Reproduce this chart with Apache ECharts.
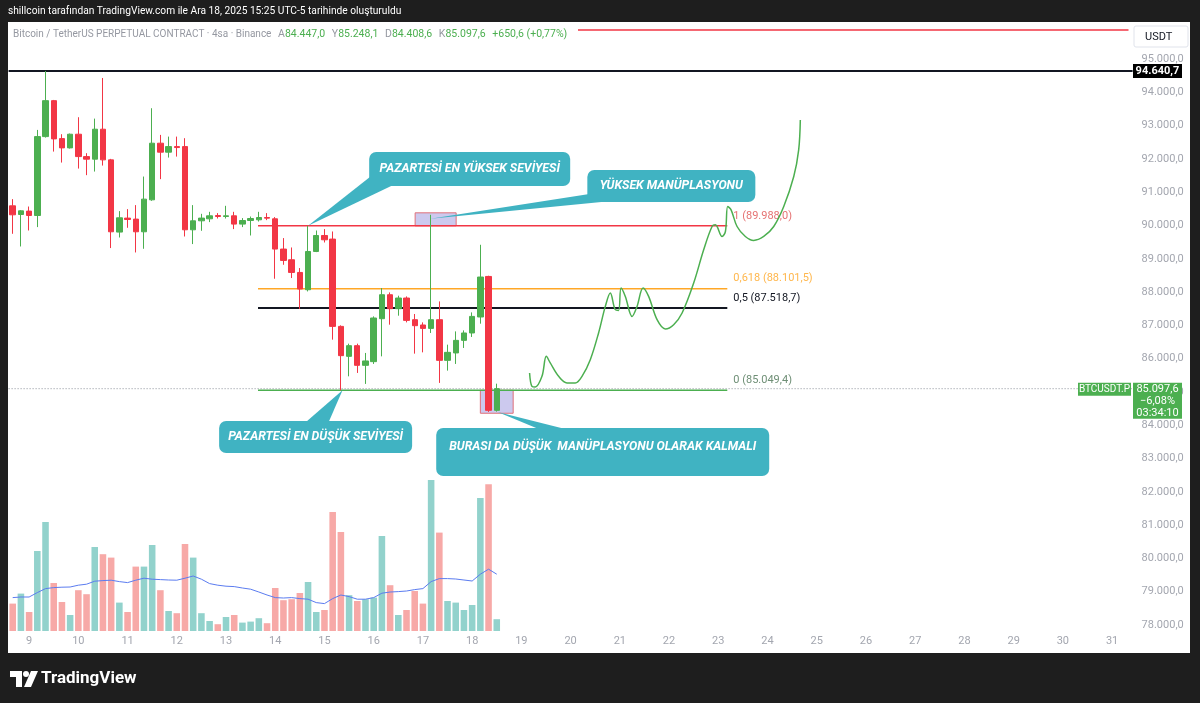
<!DOCTYPE html>
<html><head><meta charset="utf-8">
<script src="https://cdn.jsdelivr.net/npm/echarts@6/dist/echarts.min.js"></script>
<style>html,body{margin:0;padding:0;background:#1e1e1e;}#c{width:1200px;height:703px;}</style>
</head><body><div id="c"></div>
<script>
// ---------------- DATA ----------------
const opens  =[90590,90329,90431,90299,92669,93749,92609,92330,92741,92069,91991,92891,91970,89801,90221,90191,89810,90770,92471,92201,92369,92369,89870,90140,90200,90299,90269,90290,90041,90149,90170,90239,90200,89291,88970,88589,88070,89219,89699,89591,86969,86069,86390,85799,85910,87200,87920,87500,87821,87170,87011,86909,87170,85949,86171,86549,86771,87251,88469,84447.0];
const highs  =[90791,90460,90569,92870,94640.7,93770,92741,92760,93251,92171,93209,94430,92000,90431,90491,90611,91469,93521,92720,92669,92669,92621,90611,90350,90410,90371,90590,90410,90221,90269,90410,90371,90251,89621,89339,88721,89988.0,89849,89891,89819,87000,86450,86450,86171,87269,88121,87989,87890,87869,87341,87089,90320,87719,86420,86819,86849,87389,89420,88490,85248.1];
const lows   =[89750,89369,89849,89951,92640,92219,91889,92310,91709,91511,91619,91799,89321,89639,89930,89189,89300,90740,91391,92039,92069,89669,89441,89840,90101,90209,90209,89891,89951,89699,90119,90160,88400,88820,88421,87491,88019,89200,89489,86570,85049.4,85469,85571,85241,85841,86069,87020,87290,87089,86150,86189,86771,85271,85640,85841,86321,86651,87050,84400,84408.6];
const closes =[90320,90440,90299,92669,93749,92600,92330,92741,92069,91991,92891,91970,89810,90230,90179,89810,90791,92471,92201,92369,92340,89870,90140,90221,90290,90269,90290,90041,90149,90209,90239,90220,89291,88949,88589,88091,89219,89699,89570,86969,86090,86390,85799,85931,87221,87920,87500,87821,87149,86990,86909,87170,85949,86189,86549,86771,87269,88451,84447.0,85097.6];
const volumes=[13.7,18.7,9.5,40,54.5,24,14.5,8,20.4,18.4,42,38.4,36.7,14.2,9.5,32.2,32.2,43,20.4,10,8.9,43.5,36.7,8.9,5,3.4,7,8,4.2,4.7,6.4,3.9,21.5,15.4,15.9,19,24.5,9.5,10.5,59.5,49.5,17.9,15,15.9,16.7,47.5,22.9,8,10.5,20,13.7,75.5,49.2,15,14.2,10.5,13,66.5,73.4,5.9];
const volumeMA=[16.7,17,17,19.2,21.2,21.7,21.9,22,22.9,23.4,24.9,25.2,25.4,24.7,24.2,25.4,26.4,25.9,25.7,25.5,25.4,26.4,27.5,25.9,23.7,22.9,22.4,22.2,21.5,20.9,19.5,18,16.7,16.5,16.7,16.2,15.9,14.2,13.7,16.2,18,17.2,15.9,15.9,16.7,18.9,19.5,19.7,20,20.7,21.2,24.7,26.2,26.2,26,25.5,25,28.4,30.9,28.4];
const pathIdx  =[63.0,63.29,63.7,64.51,65.04,65.52,66.54,67.56,68.57,69.39,70.4,71.41,72.23,72.84,73.45,73.85,74.15,74.67,75.49,76.1,76.83,77.51,78.54,79.55,80.56,81.59,83.0,84.22,85.24,85.65,86.46,86.87,87.15,87.56,88.29,89.3,90.32,91.54,92.76,93.98,95.2,95.8,96.0];
const pathPrice=[85571,85169,85151,85469,86069,85871,85469,85271,85271,85469,85970,86771,87569,87971,87470,87449,88121,87869,87269,87569,88121,87869,87170,86891,87020,87371,88271,89270,89969,90020,89669,89819,90569,90470,89969,89669,89549,89669,89969,90569,91469,92270,93170];
const priceTicks=[78000,79000,80000,81000,82000,83000,84000,85000,86000,87000,88000,89000,90000,91000,92000,93000,94000,95000];
const fibRatios=['1','0,618','0,5','0'];
const fibValues=[89988.0,88101.5,87518.7,85049.4];
const fibFromIdx=29.9, fibToIdx=87.1;
const highLine=94640.7;
const topRayPrice=95870, topRayFromIdx=68.9, topRayToIdx=136.0;
const boxes=[[49.05,90380,54.05,89988.0],[57.0,85049.4,61.0,84360]];
const calloutTexts=['PAZARTESİ EN YÜKSEK SEVİYESİ','YÜKSEK MANÜPLASYONU','PAZARTESİ EN DÜŞÜK SEVİYESİ','BURASI DA DÜŞÜK  MANÜPLASYONU OLARAK KALMALI'];
const calloutAnchors=[[36,89988.0],[50.9,90200],[40.2,85049.4],[59.1,84400]];
const calloutCorners=[[43.45,92207],[70.04,91666],[25.16,84127],[51.62,83917]];
const changePct='−6,08%', countdown='03:34:10';
const startDay=8,startHour=16,barHours=4,slotCount=137;

// ---------------- BUILD ----------------
const categories=[];
for(let i=0;i<slotCount;i++){const h=startHour+barHours*i;const d=startDay+Math.floor(h/24);const hh=h%24;categories.push(d+' '+String(hh).padStart(2,'0')+':00');}
function fmt(v,dec=1){const s=Math.abs(v).toFixed(dec);let [a,b]=s.split('.');a=a.replace(/\B(?=(\d{3})+(?!\d))/g,'.');return (v<0?'-':'')+(b?a+','+b:a);}
const UP='#4caf50',DN='#f23645';
const FONT='Roboto, "Noto Sans", sans-serif';
const fibColors=['#f23645','#ffa726','#131722','#4caf50'];
const fibLabelColors=['#e57373','#ffb74d','#131722','#6f8f76'];
const fibWidths=[1.5,1.5,2,1.5];
const last=closes.length-1;

const chart=echarts.init(document.getElementById('c'),null,{renderer:'canvas'});
const series=[];
series.push({type:'bar',xAxisIndex:0,yAxisIndex:1,barWidth:'80%',silent:true,z:1,
  data:volumes.map((v,i)=>({value:v,itemStyle:{color:closes[i]>=opens[i]?'#92d2cc':'#f7a9a7'}}))});
series.push({type:'line',xAxisIndex:0,yAxisIndex:1,data:volumeMA,symbol:'none',z:2,lineStyle:{color:'#5b7cf0',width:1}});
series.push({type:'candlestick',xAxisIndex:0,yAxisIndex:0,barWidth:'72%',z:5,
  data:opens.map((o,i)=>[o,closes[i],lows[i],highs[i]]),
  itemStyle:{color:UP,color0:DN,borderColor:UP,borderColor0:DN,borderWidth:1}});
fibValues.forEach((v,k)=>{
  series.push({type:'line',xAxisIndex:1,yAxisIndex:0,symbol:'none',z:4,data:[[fibFromIdx,v],[fibToIdx,v]],
    lineStyle:{color:fibColors[k],width:fibWidths[k]},
    endLabel:{show:true,formatter:fibRatios[k]+' ('+fmt(v)+')',color:fibLabelColors[k],fontSize:11,fontFamily:FONT,distance:6,offset:[0,-10]}});
});
series.push({type:'line',xAxisIndex:1,yAxisIndex:0,symbol:'none',z:4,data:[[-0.5,highLine],[slotCount-0.5,highLine]],lineStyle:{color:'#131722',width:2}});
series.push({type:'line',xAxisIndex:1,yAxisIndex:0,symbol:'none',z:4,data:[[topRayFromIdx,topRayPrice],[topRayToIdx,topRayPrice]],lineStyle:{color:DN,width:1.5}});
series.push({type:'line',xAxisIndex:1,yAxisIndex:0,symbol:'none',z:3,data:[[-0.5,closes[last]],[slotCount-0.5,closes[last]]],lineStyle:{color:'#8a8f98',width:1,type:[1,2]}});
series.push({type:'line',xAxisIndex:1,yAxisIndex:0,symbol:'none',z:6,smooth:0.35,data:pathIdx.map((x,i)=>[x,pathPrice[i]]),lineStyle:{color:'#4caf50',width:1.5}});
series.push({type:'line',xAxisIndex:1,yAxisIndex:0,data:[],z:3,markArea:{silent:true,
  itemStyle:{color:'rgba(120,112,210,0.38)',borderColor:'#e0707a',borderWidth:1},
  data:boxes.map(b=>[{coord:[b[0],b[1]]},{coord:[b[2],b[3]]}])}});

const option={
  backgroundColor:'#1e1e1e',animation:false,
  grid:{left:8.6,right:67.4,top:22,bottom:72},
  xAxis:[
    {type:'category',data:categories,boundaryGap:true,axisLine:{show:false},axisTick:{show:false},splitLine:{show:false},
     axisLabel:{interval:(i,v)=>v.endsWith(' 00:00'),formatter:v=>v.split(' ')[0],color:'#a3a6af',fontSize:11,fontFamily:FONT,margin:5}},
    {type:'value',min:-0.5,max:slotCount-0.5,show:false}
  ],
  yAxis:[
    {type:'value',position:'right',min:77820,max:96111,scale:true,axisLine:{show:false},axisTick:{show:false},splitLine:{show:false},
     axisLabel:{customValues:priceTicks,formatter:v=>fmt(v),color:'#a3a6af',fontSize:11,fontFamily:FONT,margin:9}},
    {type:'value',min:0,max:304.5,show:false}
  ],
  series:series
};
chart.setOption(option);

// ---------------- OVERLAYS ----------------
const px=x=>chart.convertToPixel({xAxisIndex:1},x);
const py=y=>chart.convertToPixel({yAxisIndex:0},y);
const g=[];
g.push({type:'rect',z:-10,shape:{x:8,y:22,width:1182,height:631},style:{fill:'#ffffff'}});
g.push({type:'text',z:50,x:8,y:11,style:{text:'shillcoin tarafından TradingView.com ile Ara 18, 2025 15:25 UTC-5 tarihinde oluşturuldu',fill:'#ffffff',font:'10.2px '+FONT,verticalAlign:'middle'}});
const chg=closes[last]-closes[last-1];
g.push({type:'text',z:50,x:13,y:34,style:{
  text:'{g|Bitcoin / TetherUS PERPETUAL CONTRACT · 4sa · Binance}  {g2|A}{v|'+fmt(opens[last])+'}  {g2|Y}{v|'+fmt(highs[last])+'}  {g2|D}{v|'+fmt(lows[last])+'}  {g2|K}{v|'+fmt(closes[last])+'}  {v|'+(chg>=0?'+':'')+fmt(chg)+' (+'+fmt(chg/closes[last-1]*100,2)+'%)}',
  verticalAlign:'middle',rich:{g:{fill:'#9598a1',font:'10px '+FONT},g2:{fill:'#9598a1',font:'10.5px '+FONT},v:{fill:UP,font:'10.5px '+FONT}}}});
// USDT box
g.push({type:'rect',z:50,shape:{x:1134,y:26,width:54,height:21,r:2},style:{fill:'#fff',stroke:'#e0e3eb',lineWidth:1}});
g.push({type:'text',z:51,x:1145,y:37,style:{text:'USDT',fill:'#131722',font:'11px '+FONT,verticalAlign:'middle'}});
// high tag
const yh=py(highLine);
g.push({type:'rect',z:50,shape:{x:1133,y:yh-7,width:49,height:14},style:{fill:'#000'}});
g.push({type:'text',z:51,x:1157.5,y:yh,style:{text:fmt(highLine),fill:'#fff',font:'bold 11px '+FONT,align:'center',verticalAlign:'middle'}});
// last price tags
const yl=py(closes[last]);
g.push({type:'rect',z:50,shape:{x:1133,y:yl-6,width:49,height:36},style:{fill:UP}});
g.push({type:'text',z:51,x:1157.5,y:yl-5,style:{text:fmt(closes[last])+'\n'+changePct+'\n'+countdown,fill:'#fff',font:'11px '+FONT,lineHeight:12,align:'center',verticalAlign:'top'}});
g.push({type:'rect',z:50,shape:{x:1078,y:yl-6,width:53,height:13},style:{fill:UP}});
g.push({type:'text',z:51,x:1104.5,y:yl+0.5,style:{text:'BTCUSDT.P',fill:'#fff',font:'10px '+FONT,align:'center',verticalAlign:'middle'}});
// callouts
const boxSizes=[[201,34],[168,32],[193,32],[333,48]];
const wedgeBase=[[[2,24],[22,34]],[[2,24],[14,32]],[[88,0],[110,0]],[[100,0],[125,0]]];
const textDy=[17,16,16,19];
const TEAL='#40b3c2';
calloutTexts.forEach((t,k)=>{
  const bx=px(calloutCorners[k][0]),by=py(calloutCorners[k][1]);
  const ax=px(calloutAnchors[k][0]),ay=py(calloutAnchors[k][1]);
  const [w,h]=boxSizes[k];
  g.push({type:'polygon',z:60,shape:{points:[[ax,ay],[bx+wedgeBase[k][0][0],by+wedgeBase[k][0][1]],[bx+wedgeBase[k][1][0],by+wedgeBase[k][1][1]]]},style:{fill:TEAL}});
  g.push({type:'rect',z:61,shape:{x:bx,y:by,width:w,height:h,r:7},style:{fill:TEAL}});
  g.push({type:'text',z:62,x:bx+w/2,y:by+textDy[k],style:{text:t,fill:'#fff',font:'italic bold 12.3px '+FONT,align:'center',verticalAlign:'middle'}});
});
// logo
g.push({type:'polygon',z:50,shape:{points:[[10,671],[22,671],[22,687],[16,687],[16,677],[10,677]]},style:{fill:'#fff'}});
g.push({type:'circle',z:50,shape:{cx:26,cy:674,r:3},style:{fill:'#fff'}});
g.push({type:'polygon',z:50,shape:{points:[[24,687],[31,671],[38,671],[31,687]]},style:{fill:'#fff'}});
g.push({type:'text',z:50,x:41,y:679,style:{text:'TradingView',fill:'#fff',font:'bold 17px '+FONT,verticalAlign:'middle'}});
chart.setOption({graphic:{elements:g}});
</script></body></html>
